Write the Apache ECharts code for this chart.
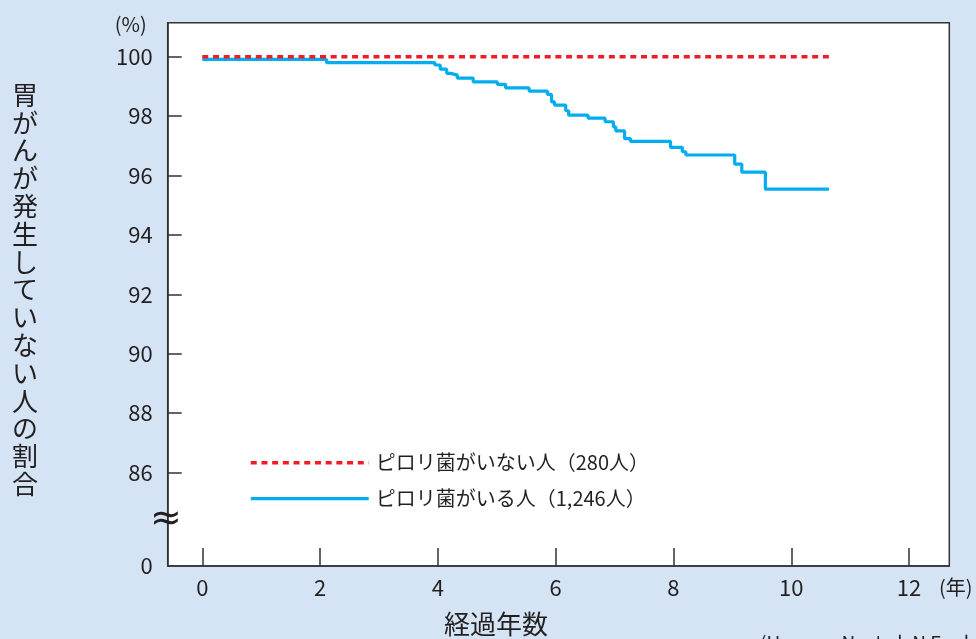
<!DOCTYPE html>
<html>
<head>
<meta charset="utf-8">
<script src="https://cdn.jsdelivr.net/npm/echarts@6/dist/echarts.min.js"></script>
<style>
html,body{margin:0;padding:0;background:#d4e4f4;}
#chart{width:976px;height:639px;}
</style>
</head>
<body>
<div id="chart"></div>
<script>
// ---- data ----
const seriesNames = ['ピロリ菌がいない人（280人）', 'ピロリ菌がいる人（1,246人）'];
const negYears = [0, 10.67];
const negative = [100, 100];
const posYears = [0, 2.11, 3.95, 4.04, 4.15, 4.22, 4.33, 4.60, 5.01, 5.15, 5.55, 5.86, 5.93, 5.98, 6.17, 6.22, 6.55, 6.84, 6.98, 7.02, 7.17, 7.27, 7.95, 8.15, 8.21, 9.04, 9.16, 9.56, 10.64];
const positive = [99.91, 99.80, 99.72, 99.58, 99.44, 99.38, 99.28, 99.15, 99.07, 98.95, 98.84, 98.73, 98.48, 98.37, 98.18, 98.03, 97.93, 97.81, 97.64, 97.50, 97.24, 97.15, 96.95, 96.80, 96.69, 96.38, 96.11, 95.54, 95.54];
const xTicks = [0, 2, 4, 6, 8, 10, 12];
const yTicks = [86, 88, 90, 92, 94, 96, 98, 100];
const yBottom = 82.85; // broken axis: shown as "0"
const yTitle = '胃がんが発生していない人の割合';
const xTitle = '経過年数';
const xUnit = '(年)';
const yUnit = '(%)';
const source = '(Uemura N, et al. N Engl J Med 2001; 345: 784-9)';

const FONT = '"Noto Sans CJK JP", "Noto Sans", sans-serif';
const TXT = '#231f20';
const RED = '#ee1c25';
const BLUE = '#00aeef';
const redLine = { color: RED, width: 3.5, type: [6, 4.7] };
const blueLine = { color: BLUE, width: 3.2, type: 'solid' };

const chart = echarts.init(document.getElementById('chart'));
chart.setOption({
  backgroundColor: '#d4e4f4',
  animation: false,
  textStyle: { fontFamily: FONT, color: TXT },
  grid: {
    left: 167.7, right: 26.7, top: 22.7, bottom: 73,
    outerBoundsMode: 'none', containLabel: false,
    show: true, backgroundColor: '#fff', borderColor: '#333', borderWidth: 1.5
  },
  legend: {
    orient: 'vertical', left: 249, top: 450.7, padding: 0,
    itemWidth: 118, itemHeight: 14, itemGap: 12,
    itemStyle: { opacity: 0 },
    data: [
      { name: seriesNames[0], lineStyle: redLine },
      { name: seriesNames[1], lineStyle: blueLine }
    ],
    textStyle: { fontFamily: FONT, fontSize: 20, color: TXT, lineHeight: 24, padding: [0, 0, 0, 2] }
  },
  xAxis: {
    type: 'value', min: -0.587, max: 12.683,
    axisLine: { show: true, onZero: false, lineStyle: { color: '#333', width: 1.5 } },
    axisTick: { show: true, inside: true, length: 18, customValues: xTicks, lineStyle: { color: '#333', width: 1.5 } },
    axisLabel: { customValues: xTicks, fontSize: 22, color: TXT, margin: 11, fontFamily: FONT },
    splitLine: { show: false }
  },
  yAxis: {
    type: 'value', min: yBottom, max: 101.145,
    name: yUnit, nameLocation: 'end', nameGap: -12,
    nameTextStyle: { fontFamily: FONT, fontSize: 20, color: TXT, padding: [0, 74, 0, 0] },
    axisLine: { show: true, onZero: false, lineStyle: { color: '#333', width: 1.5 } },
    axisTick: { show: true, inside: true, length: 14, customValues: yTicks, lineStyle: { color: '#333', width: 1.5 } },
    axisLabel: {
      customValues: [yBottom].concat(yTicks), fontSize: 22, color: TXT, margin: 15, fontFamily: FONT,
      formatter: v => (v < 85 ? '0' : String(Math.round(v)))
    },
    splitLine: { show: false }
  },
  graphic: [
    { type: 'text', left: 12, top: 81, z: 10,
      style: { text: yTitle.split('').join('\n'), font: '26px ' + FONT, fill: TXT, lineHeight: 27.8, align: 'center' } },
    { type: 'text', left: 444, top: 611, z: 10,
      style: { text: xTitle, font: '26px ' + FONT, fill: TXT } },
    { type: 'text', left: 939, top: 577, z: 10,
      style: { text: xUnit, font: '20px ' + FONT, fill: TXT } },
    { type: 'text', left: 760, top: 633, z: 10,
      style: { text: source, font: '19px ' + FONT, fill: TXT } },
    { type: 'text', x: 166, y: 520, z: 10,
      style: { text: '≈', font: '38px "DejaVu Sans", sans-serif', fill: TXT, align: 'center', verticalAlign: 'middle' } }
  ],
  series: [
    {
      name: seriesNames[0], type: 'line', symbol: 'none', z: 5,
      data: negYears.map((x, i) => [x, negative[i]]),
      lineStyle: redLine,
      itemStyle: { color: RED }
    },
    {
      name: seriesNames[1], type: 'line', symbol: 'none', step: 'end', z: 4,
      data: posYears.map((x, i) => [x, positive[i]]),
      lineStyle: blueLine,
      itemStyle: { color: BLUE }
    }
  ]
});
</script>
</body>
</html>
